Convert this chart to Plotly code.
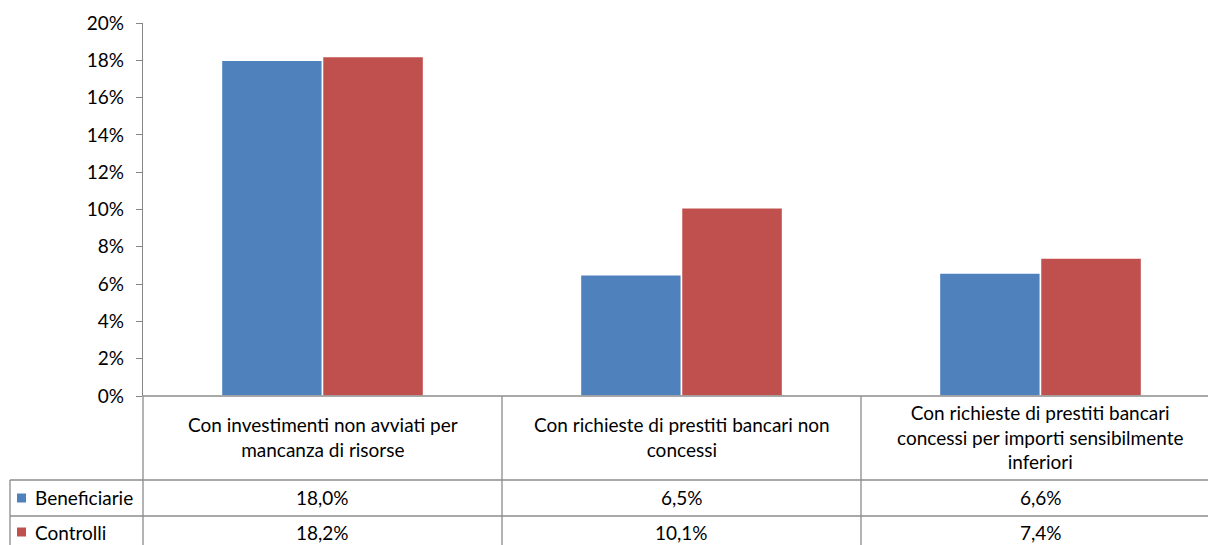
import plotly.graph_objects as go

categories = [
    "Con investimenti non avviati per<br>mancanza di risorse",
    "Con richieste di prestiti bancari non<br>concessi",
    "Con richieste di prestiti bancari<br>concessi per importi sensibilmente<br>inferiori",
]
series_names = ["Beneficiarie", "Controlli"]
beneficiarie = [18.0, 6.5, 6.6]
controlli = [18.2, 10.1, 7.4]
colors = ["#4F81BD", "#C0504D"]

W, H = 1208, 545
FONT = "Lato"
FS = 19


def px(x):
    return x / W


def py(y):
    return (H - y) / H


xpos = list(range(len(categories)))
fig = go.Figure()
for name, vals, col in zip(series_names, [beneficiarie, controlli], colors):
    fig.add_trace(go.Bar(
        x=xpos, y=vals, name=name,
        marker=dict(color=col, line=dict(color="white", width=1.5)),
        showlegend=False, hoverinfo="skip",
    ))

x0_pix = 143
col_w = 359
x_right = -0.5 + (W - x0_pix) / col_w
y0, y20 = 396, 23

fig.update_layout(
    width=W, height=H, autosize=False,
    margin=dict(l=0, r=0, t=0, b=0, pad=0, autoexpand=False),
    paper_bgcolor="white", plot_bgcolor="white",
    barmode="group", bargap=0.437, bargroupgap=0.0,
    font=dict(family=FONT, size=FS, color="black"),
    xaxis=dict(domain=[px(x0_pix), 1], range=[-0.5, x_right],
               showticklabels=False, showgrid=False, zeroline=False,
               showline=False, ticks="", automargin=False),
    yaxis=dict(domain=[py(y0), py(y20)], range=[0, 20], dtick=2,
               ticksuffix="%", showgrid=False, zeroline=False,
               showline=True, linecolor="#868686", linewidth=1.3,
               ticks="outside", ticklen=6, tickcolor="#868686",
               ticklabelstandoff=8, automargin=False,
               tickfont=dict(family=FONT, size=FS, color="black")),
)

line = dict(color="#8C8C8C", width=1.3)
shapes = []
# x axis line / top of table
shapes.append(dict(type="line", xref="paper", yref="paper",
                   x0=px(x0_pix), x1=1, y0=py(y0), y1=py(y0), line=line))
# vertical axis continued through table
shapes.append(dict(type="line", xref="paper", yref="paper",
                   x0=px(x0_pix), x1=px(x0_pix), y0=py(y0), y1=0, line=line))
# category separators
for i in range(len(categories) - 1):
    shapes.append(dict(type="line", xref="x", yref="paper",
                       x0=i + 0.5, x1=i + 0.5, y0=py(y0), y1=0, line=line))
# row lines
for yy in (480, 516):
    shapes.append(dict(type="line", xref="paper", yref="paper",
                       x0=px(10), x1=1, y0=py(yy), y1=py(yy), line=line))
# left border of legend cells
shapes.append(dict(type="line", xref="paper", yref="paper",
                   x0=px(10), x1=px(10), y0=py(480), y1=0, line=line))
# legend keys
for col, yc in zip(colors, (498, 532)):
    shapes.append(dict(type="rect", xref="paper", yref="paper",
                       x0=px(17), x1=px(26), y0=py(yc + 4.5), y1=py(yc - 4.5),
                       fillcolor=col, line=dict(width=0)))

annotations = []
for i, c in enumerate(categories):
    annotations.append(dict(x=i, y=py(437), xref="x", yref="paper",
                            text=c, showarrow=False, align="center",
                            xanchor="center", yanchor="middle",
                            font=dict(family=FONT, size=FS, color="black")))


def fmt(v):
    return f"{v:.1f}".replace(".", ",") + "%"


for name, vals, yc in zip(series_names, [beneficiarie, controlli], (498, 532)):
    annotations.append(dict(x=px(33), y=py(yc), xref="paper", yref="paper",
                            text=name, showarrow=False, xanchor="left",
                            yanchor="middle",
                            font=dict(family=FONT, size=FS, color="black")))
    for i, v in enumerate(vals):
        annotations.append(dict(x=i, y=py(yc), xref="x", yref="paper",
                                text=fmt(v), showarrow=False,
                                xanchor="center", yanchor="middle",
                                font=dict(family=FONT, size=FS, color="black")))

fig.update_layout(shapes=shapes, annotations=annotations)
fig.write_html(
    "out.html",
    config={"displayModeBar": False, "responsive": False},
    post_script="document.body.style.margin='0px';document.body.style.overflow='hidden';",
)
